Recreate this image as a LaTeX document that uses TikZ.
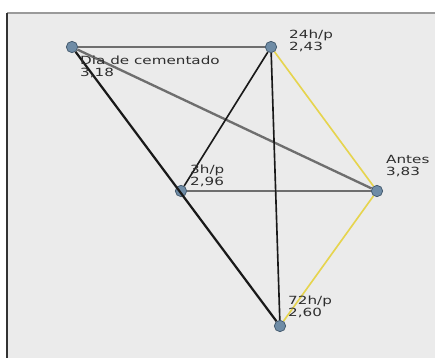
\documentclass[tikz,border=0pt]{standalone}
\usepackage{fontspec}
\newfontfamily\lblfont[FakeStretch=1.35]{DejaVu Sans}
\usetikzlibrary{positioning}
\definecolor{Panel}{HTML}{EBEBEB}
\definecolor{Rim}{HTML}{9A9A9A}
\definecolor{Ink}{HTML}{2E2E2E}
\definecolor{Grey}{HTML}{6E6E6E}
\definecolor{Gold}{HTML}{E6D44E}
\definecolor{vfill}{HTML}{6F8CA6}
\definecolor{vline}{HTML}{3E5468}
\tikzset{
  vx/.style={circle,fill=vfill,draw=vline,line width=0.6pt,minimum size=0.34cm,inner sep=0pt},
  lb/.style={font=\lblfont\fontsize{9.6}{9.8}\selectfont,text=Ink,align=left,inner sep=0pt,anchor=south west},
  gw/.style={draw=Grey,line width=2pt},
  bw/.style={draw=black!90,line width=1.4pt},
  yw/.style={draw=Gold,line width=1.4pt},
}
\begin{document}
\begin{tikzpicture}[x=.03cm,y=-.03cm]
\useasboundingbox (0,0) rectangle (435,358);
% panel
\fill[Panel] (7,13) rectangle (435,358);
\draw[Rim,line width=1.4pt] (7,13) -- (435,13);
\draw[black!80,line width=1pt] (7,13) -- (7,358);
% vertices
\node[vx] (dia) at (72,47) {}; \node[vx] (h24) at (271,47) {};
\node[vx] (h3) at (181,191) {}; \node[vx] (ant) at (377,191) {};
\node[vx] (h72) at (280,326) {};
% edges
\draw[gw] (dia) -- (h24); \draw[gw] (dia) -- (ant); \draw[gw] (h3) -- (ant);
\draw[yw] (h24) -- (ant); \draw[yw] (ant) -- (h72);
\draw[bw,line width=1.9pt] (dia) -- (h72); \draw[bw] (h24) -- (h3); \draw[bw] (h24) -- (h72);
% labels
\node[lb,anchor=north west] (ldia) at (80,56) {Dia de cementado\\3,18};
\node[lb] (l24) at (289,52) {24h/p\\2,43};
\node[lb] (l3) at (190,187) {3h/p\\2,96};
\node[lb] (lant) at (386,177) {Antes\\3,83};
\node[lb] (l72) at (288,318) {72h/p\\2,60};
\end{tikzpicture}
\end{document}
